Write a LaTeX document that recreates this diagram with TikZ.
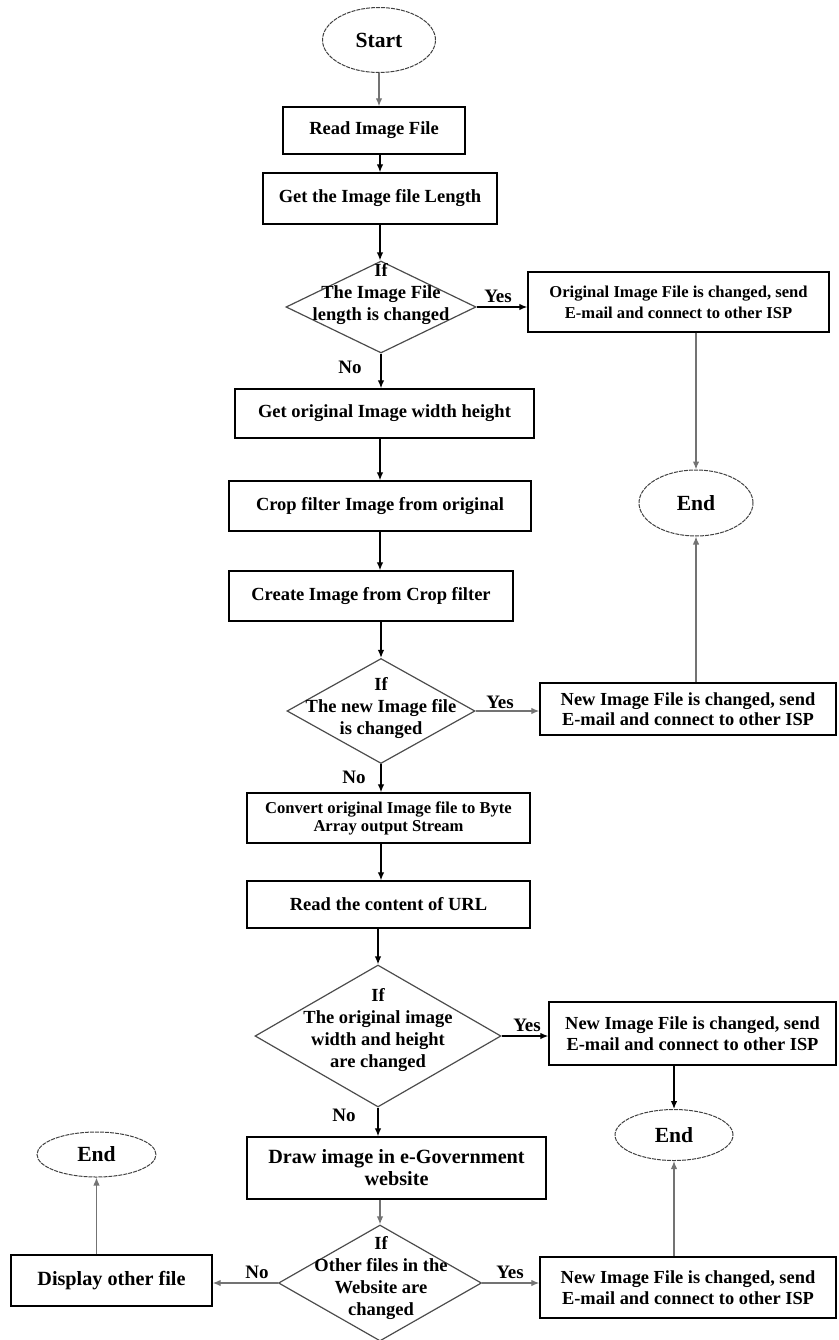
\documentclass[tikz,border=0pt]{standalone}
\usepackage{fontspec}
\setmainfont{Liberation Serif}
\usetikzlibrary{shapes.geometric,arrows.meta}
\begin{document}
\begin{tikzpicture}[x=1pt,y=-1pt,
  box/.style={draw=black,line width=1.4pt,inner sep=0pt,align=center,font=\fontsize{18.5}{21.5}\selectfont\bfseries},
  term/.style={ellipse,draw=black!75,line width=1pt,dash pattern=on 4pt off 1pt,inner sep=0pt,font=\fontsize{21.6}{24}\selectfont\bfseries},
  dia/.style={diamond,draw=black!70,line width=1.2pt,inner sep=0pt},
  dtext/.style={align=center,inner sep=0pt,font=\fontsize{18.5}{21.7}\selectfont\bfseries},
  lbl/.style={inner sep=0pt,font=\fontsize{19}{21}\selectfont\bfseries},
  arr/.style={line width=1.3pt,-{Latex[length=8pt,width=6.5pt]}},
  garr/.style={arr,draw=black!55},
]
\useasboundingbox (0,0) rectangle (838,1340);

% nodes
\node[term,minimum width=113pt,minimum height=65pt] (start) at (379,40) {Start};
\node[box,minimum width=182pt,minimum height=47pt] (read) at (374,130.5) {Read Image File};
\node[box,minimum width=234pt,minimum height=51pt] (len) at (380,198.5) {Get the Image file Length};
\node[dia,minimum width=190pt,minimum height=92pt] (d1) at (381,307) {};
\node[dtext] (d1t) at (381,294) {If\\The Image File\\length is changed};
\node[box,minimum width=301pt,minimum height=60pt,font=\fontsize{16.6}{21}\selectfont\bfseries] (orig) at (678.5,302) {Original Image File is changed, send\\E-mail and connect to other ISP};
\node[term,minimum width=114pt,minimum height=66pt] (end1) at (696,503) {End};
\node[box,minimum width=299pt,minimum height=49pt] (getw) at (384.5,413.5) {Get original Image width height};
\node[box,minimum width=302pt,minimum height=50pt] (crop) at (380,506) {Crop filter Image from original};
\node[box,minimum width=284pt,minimum height=50pt] (create) at (371,596) {Create Image from Crop filter};
\node[dia,minimum width=188pt,minimum height=105pt] (d2) at (381,711) {};
\node[dtext] (d2t) at (381,708) {If\\The new Image file\\is changed};
\node[box,minimum width=296pt,minimum height=52pt,font=\fontsize{18.4}{20.5}\selectfont\bfseries] (new1) at (688,709) {New Image File is changed, send\\E-mail and connect to other ISP};
\node[box,minimum width=283pt,minimum height=50pt,font=\fontsize{16.6}{18}\selectfont\bfseries] (conv) at (388.5,818) {Convert original Image file to Byte\\Array output Stream};
\node[box,minimum width=283pt,minimum height=47pt] (url) at (388.5,904.5) {Read the content of URL};
\node[dia,minimum width=246pt,minimum height=142pt] (d3) at (378,1036) {};
\node[dtext] (d3t) at (378,1030) {If\\The original image\\width and height\\are changed};
\node[box,minimum width=287pt,minimum height=63pt,font=\fontsize{18.4}{20.5}\selectfont\bfseries] (new2) at (692.5,1033.5) {New Image File is changed, send\\E-mail and connect to other ISP};
\node[term,minimum width=118pt,minimum height=51pt] (end2) at (674,1135) {End};
\node[box,minimum width=299pt,minimum height=62pt,font=\fontsize{20.2}{22}\selectfont\bfseries] (draw) at (396.5,1168) {Draw image in e-Government\\website};
\node[dia,minimum width=203pt,minimum height=116pt] (d4) at (380,1283) {};
\node[dtext] (d4t) at (381,1278) {If\\Other files in the\\Website are\\changed};
\node[box,minimum width=201pt,minimum height=51pt,font=\fontsize{20.2}{22}\selectfont\bfseries] (disp) at (111.5,1280.5) {Display other file};
\node[term,minimum width=119pt,minimum height=45pt] (end3) at (96.5,1154.5) {End};
\node[box,minimum width=296pt,minimum height=61pt,font=\fontsize{18.4}{20.5}\selectfont\bfseries] (new3) at (688,1287.5) {New Image File is changed, send\\E-mail and connect to other ISP};

% labels
\node[lbl] (yes1) at (498,296) {Yes};
\node[lbl] (no1) at (350,367) {No};
\node[lbl] (yes2) at (500,702) {Yes};
\node[lbl] (no2) at (354,777) {No};
\node[lbl] (yes3) at (527,1025) {Yes};
\node[lbl] (no3) at (344,1115) {No};
\node[lbl] (no4) at (257,1272) {No};
\node[lbl] (yes4) at (510,1272) {Yes};

% connectors
\draw[garr] (start) -- (start |- read.north);
\draw[arr] (read.south -| len.north) -- (len.north);
\draw[arr] (len) -- (len |- d1.north);
\draw[arr] (d1.south) -- (d1.south |- getw.north);
\draw[arr] (d1.east) -- (d1.east -| orig.west);
\draw[garr] (orig.south -| end1.north) -- (end1.north);
\draw[arr] (getw.south -| crop.north) -- (crop.north);
\draw[arr] (crop) -- (crop |- create.north);
\draw[arr] (create.south -| d2.north) -- (d2.north);
\draw[garr] (d2.east) -- (d2.east -| new1.west);
\draw[garr] (new1.north -| end1.south) -- (end1.south);
\draw[arr] (d2.south) -- (d2.south |- conv.north);
\draw[arr] (conv.south -| d2.south) -- (d2.south |- url.north);
\draw[arr] (url.south -| d3.north) -- (d3.north);
\draw[arr] (d3.east) -- (d3.east -| new2.west);
\draw[arr] (new2.south -| end2.north) -- (end2.north);
\draw[arr] (d3.south) -- (d3.south |- draw.north);
\draw[garr] (new3.north -| end2.south) -- (end2.south);
\draw[garr] (draw.south -| d4.north) -- (d4.north);
\draw[garr] (d4.east) -- (d4.east -| new3.west);
\draw[garr] (d4.west) -- (d4.west -| disp.east);
\draw[garr] (disp.north -| end3.south) -- (end3.south);
\end{tikzpicture}
\end{document}
